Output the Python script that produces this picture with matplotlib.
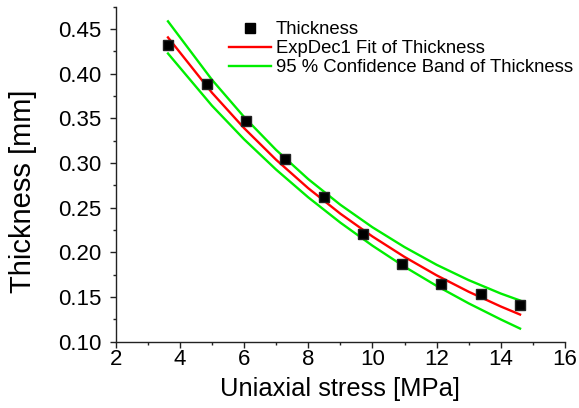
import matplotlib
matplotlib.use('Agg')
import matplotlib.pyplot as plt
from matplotlib.ticker import MultipleLocator, FormatStrFormatter

plt.rcParams['font.family'] = ['Liberation Sans', 'DejaVu Sans']

# measured thickness
stress = [3.62, 4.83, 6.06, 7.27, 8.49, 9.71, 10.93, 12.14, 13.37, 14.59]
thickness = [0.432, 0.389, 0.347, 0.305, 0.262, 0.220, 0.187, 0.165, 0.153, 0.141]

# fit curve and 95% band
fit_x = [3.63, 5, 6, 7, 8, 9, 10, 11, 12, 13, 14, 14.6]
fit_y = [0.4406, 0.3787, 0.3391, 0.3036, 0.2718, 0.2433, 0.2178, 0.1949, 0.1743, 0.1559, 0.1394, 0.1304]
band_hi = [0.4586, 0.3932, 0.3516, 0.3146, 0.2820, 0.2533, 0.2281, 0.2059, 0.1861, 0.1689, 0.1539, 0.1461]
band_lo = [0.4226, 0.3642, 0.3266, 0.2926, 0.2616, 0.2333, 0.2075, 0.1839, 0.1625, 0.1429, 0.1249, 0.1147]

fig = plt.figure(figsize=(5.79, 4.08), dpi=100)
ax = fig.add_axes([0.1998, 0.1625, 0.7760, 0.8211])

green = '#00ee00'
ax.plot(fit_x, band_hi, color=green, lw=1.7, zorder=2)
ax.plot(fit_x, band_lo, color=green, lw=1.7, zorder=2)
ax.plot(fit_x, fit_y, color='#ff0000', lw=1.7, zorder=3)
ax.plot(stress, thickness, 's', color='black', ms=6.8, mec='#222222', zorder=4)

ax.set_xlim(2, 16)
ax.set_ylim(0.10, 0.475)
ax.xaxis.set_major_locator(MultipleLocator(2))
ax.xaxis.set_minor_locator(MultipleLocator(1))
ax.yaxis.set_major_locator(MultipleLocator(0.05))
ax.yaxis.set_minor_locator(MultipleLocator(0.025))
ax.yaxis.set_major_formatter(FormatStrFormatter('%.2f'))

for s in ['top', 'right']:
    ax.spines[s].set_visible(False)
for s in ['left', 'bottom']:
    ax.spines[s].set_linewidth(1.0)
    ax.spines[s].set_color('#222222')

ax.tick_params(which='major', direction='out', length=4.5, width=1.0, color='#222222', labelsize=16)
ax.tick_params(which='minor', direction='out', length=2.5, width=1.0, color='#222222')
ax.tick_params(axis='x', which='major', pad=1)
ax.tick_params(axis='y', which='major', pad=6)

ax.set_xlabel('Uniaxial stress [MPa]', fontsize=18.4, labelpad=5)
ax.set_ylabel('Thickness [mm]', fontsize=21)
ax.yaxis.set_label_coords(-0.175, 0.45)

h_pts, = ax.plot([], [], 's', color='black', ms=6.8)
h_fit, = ax.plot([], [], color='#ff0000', lw=1.7)
h_band, = ax.plot([], [], color=green, lw=1.7)
fig.legend([h_pts, h_fit, h_band],
           ['Thickness', 'ExpDec1 Fit of Thickness', '95 % Confidence Band of Thickness'],
           loc='upper left', bbox_to_anchor=(229 / 579, 1 - 21 / 408),
           frameon=False, fontsize=13.3, borderpad=0, borderaxespad=0,
           labelspacing=0.12, handlelength=2.25, handletextpad=0.3)

plt.savefig('out.png', dpi=100)
